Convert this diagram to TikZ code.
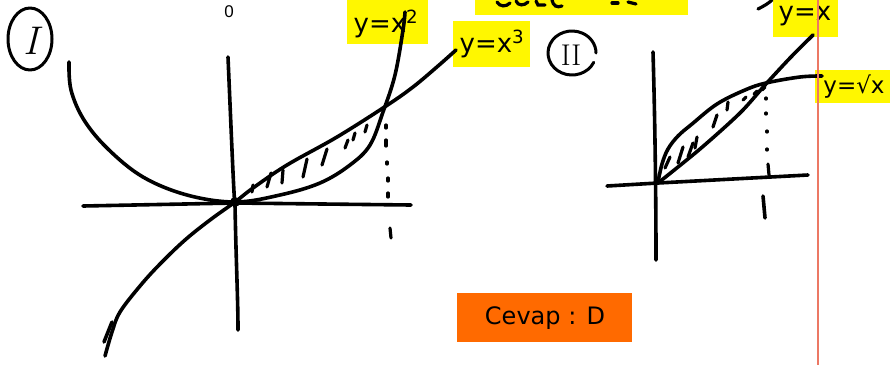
\documentclass[tikz,border=0pt]{standalone}
\usepackage{fontspec}
\newfontfamily\hand{DejaVu Sans}
\newfontfamily\ui{Liberation Sans}
\definecolor{hlyellow}{RGB}{255,247,0}
\definecolor{hlorange}{RGB}{255,106,0}
\definecolor{redline}{RGB}{236,120,100}
\begin{document}
\begin{tikzpicture}[x=1pt,y=-1pt,
  ink/.style={line width=3.6pt,line cap=round,line join=round},
  thin ink/.style={line width=3.2pt,line cap=round},
  hl/.style={fill=hlyellow,draw=none},
  lbl/.style={font=\hand\fontsize{26}{28}\selectfont,inner sep=0pt}]
\useasboundingbox (0,0) rectangle (890,365);
\fill[white] (0,0) rectangle (890,365);

% highlights
\fill[hl] (347,0) rectangle (428,44);
\fill[hl] (453,21) rectangle (530,67);
\fill[hl] (475,0) rectangle (688,15);
\fill[hl] (773,0) rectangle (838,37);
\fill[hl] (815,70) rectangle (890,103);
\fill[hlorange] (457,293) rectangle (632,342);

% labels
\node[lbl] (lx2) at (386,24) {y=x\textsuperscript{2}};
\node[lbl] (lx3) at (492,44) {y=x\textsuperscript{3}};
\node[lbl] (lx) at (805,16) {y=x};
\node[lbl,font=\hand\fontsize{23}{26}\selectfont] (lsx) at (854,87) {y=√x};
\node[font=\hand\fontsize{24}{26}\selectfont,inner sep=0pt] (ans) at (545,318) {Cevap : D};
\node[font=\ui\fontsize{17}{19}\selectfont,inner sep=0pt] (zero) at (229,12) {0};

% partial strokes in the top strip
\draw[thin ink] (497,2) .. controls (500,7) and (506,7) .. (510,3);
\draw[thin ink] (516,1) .. controls (518,6) and (524,6) .. (528,2);
\draw[thin ink] (536,1) -- (538,5) -- (545,5);
\draw[thin ink] (552,0) .. controls (553,6) and (557,8) .. (562,6);
\draw[thin ink] (612,3) -- (618,3);
\draw[thin ink] (628,2) -- (636,4);
\draw[thin ink] (758,9) .. controls (764,6) and (769,3) .. (772,0);

% circled numerals
\node[font=\fontsize{40}{42}\selectfont\itshape,inner sep=0pt] (one) at (31,41) {I};
\draw[ink,line width=3pt] (30,39) ellipse [x radius=22, y radius=31];
\node[font=\fontsize{30}{32}\selectfont,inner sep=0pt] (two) at (571,55) {II};
\draw[ink,line width=3pt] (572,53) ++(25:24 and 22) arc[start angle=25, end angle=360, x radius=24, y radius=22];

% ---------- Graph I ----------
\draw[ink] (83,206) -- (235,203) -- (411,205);
\draw[ink] (228,57) .. controls (232,150) and (234,200) .. (235,205) .. controls (236,260) and (238,300) .. (238,330);
% parabola
\draw[ink] plot[smooth,tension=0.6] coordinates {(69,62) (71,90) (84,120) (108,149) (143,177) (187,195) (235,202) (280,195) (320,183) (350,165) (370,145) (383,112) (395,75) (403,30) (405,12)};
% cubic
\draw[ink] plot[smooth,tension=0.6] coordinates {(105,356) (112,332) (120,312) (140,286) (160,264) (185,240) (210,220) (235,202) (253,188) (287,165) (337,137) (386,106) (413,87) (438,66) (456,50)};
\draw[ink] (104,342) -- (112,322);
\fill (235,202) circle (5);
% hatching
\foreach \a/\b in {{(252,192)/(253,185)},{(267,187)/(271,173)},{(282,183)/(283,170)},{(303,177)/(307,159)},{(322,165)/(327,149)},{(345,148)/(348,140)},{(353,140)/(355,133)},{(365,132)/(367,125)}}
  \draw[thin ink] \a -- \b;
% dotted drop
\foreach \a/\b in {{(386,125)/(386,128)},{(386,140)/(386,146)},{(387,162)/(387,164)},{(388,178)/(388,181)},{(388,193)/(388,197)},{(390,228)/(391,238)}}
  \draw[thin ink] \a -- \b;

% ---------- Graph II ----------
\draw[ink] (607,186) -- (658,183) -- (808,175);
\draw[ink] (653,52) .. controls (655,120) and (656,200) .. (656,260);
\draw[ink] plot[smooth,tension=0.5] coordinates {(658,183) (700,149) (740,113) (765,85) (790,58) (813,35)};
\draw[ink] plot[smooth,tension=0.6] coordinates {(658,182) (662,164) (668,149) (678,136) (692,124) (717,104) (745,90) (766,83) (800,77) (822,76)};
\foreach \a/\b in {{(665,168)/(670,157)},{(678,163)/(683,147)},{(688,157)/(693,143)},{(695,148)/(697,137)},{(713,127)/(717,115)},{(727,110)/(728,102)},{(743,100)/(746,97)},{(754,94)/(757,91)},{(762,90)/(765,87)}}
  \draw[thin ink] \a -- \b;
\foreach \a/\b in {{(766,98)/(766,99)},{(766,113)/(766,114)},{(767,131)/(767,132)},{(767,149)/(767,150)},{(768,164)/(769,175)}}
  \draw[thin ink] \a -- \b;
\draw[ink] (763,196) -- (765,218);

% red margin line
\draw[redline,line width=2pt] (818,0) -- (818,365);
\end{tikzpicture}
\end{document}
